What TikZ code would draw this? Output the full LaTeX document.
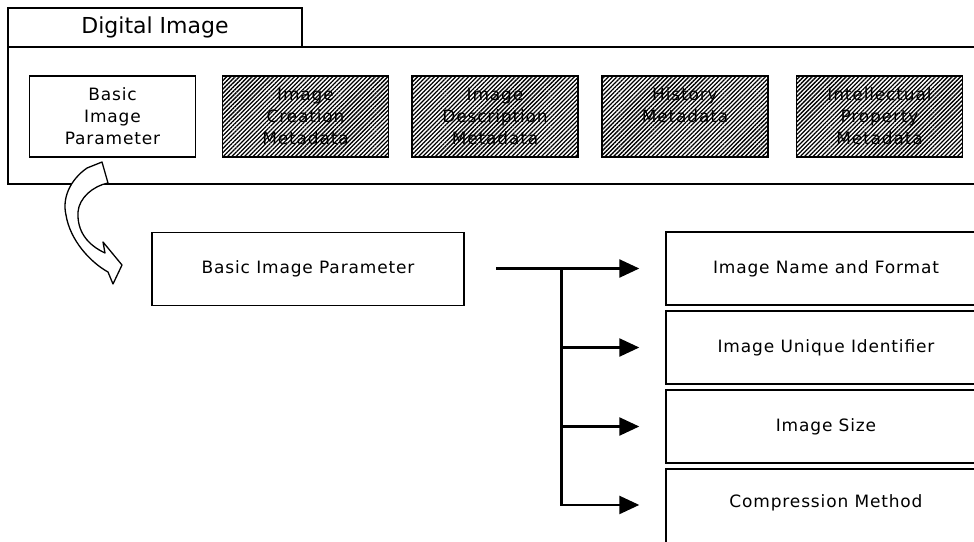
\documentclass[tikz,border=0pt]{standalone}
\usepackage{fontspec}
\setmainfont{DejaVu Sans}
\newfontfamily\partfont[LetterSpace=5]{DejaVu Sans}
\usetikzlibrary{patterns.meta,arrows.meta}

\begin{document}
\begin{tikzpicture}[x=1pt,y=-1pt,
  frame/.style={draw,line width=1.6pt},
  part/.style={draw,line width=1.4pt,fill=white,minimum width=166pt,minimum height=81pt,
    inner sep=0pt,align=center,font=\partfont\fontsize{17}{22}\selectfont},
  hatched/.style={part,pattern={Lines[angle=45,distance=3pt,line width=1.3pt]}},
  field/.style={draw,line width=1.4pt,minimum width=320pt,minimum height=73pt,
    inner sep=0pt,font=\partfont\fontsize{17}{19}\selectfont},
  branch/.style={line width=2.4pt,-{Triangle[length=20pt,width=18pt]},shorten >=26pt}]
  \useasboundingbox (0,0) rectangle (974,541);
  \clip (0,0) rectangle (974,541);

  \draw[frame] (8,47) rectangle (990,184);
  \node[frame,fill=white,minimum width=294pt,minimum height=39pt,inner sep=0pt,
    font=\fontsize{22}{26}\selectfont] (title) at (155,27.5) {Digital Image};

  \node[part] (basic) at (112.5,116.5) {Basic\\Image\\Parameter};
  \node[hatched] (creation) at (305.5,116.5) {Image\\Creation\\Metadata};
  \node[hatched] (description) at (495,116.5) {Image\\Description\\Metadata};
  \node[hatched] (history) at (685,116.5) {History\\Metadata\\\mbox{}};
  \node[hatched] (property) at (879.5,116.5) {Intellectual\\Property\\Metadata};

  % curved block arrow
  \draw[line width=1.3pt,fill=white,line join=round]
    (87,168) .. controls (70,180) and (62,198) .. (66,215)
    .. controls (70,240) and (90,262) .. (108,272) -- (113,284) -- (122,265)
    -- (103,242) -- (105,253) .. controls (88,245) and (77,232) .. (78,212)
    .. controls (79,198) and (93,186) .. (108,183) -- (102,162) -- cycle;

  \node[field,minimum width=312pt] (param) at (308,269) {Basic Image Parameter};

  \node[field] (name) at (826,268.5) {Image Name and Format};
  \node[field] (ident) at (826,347.5) {Image Unique Identifier};
  \node[field] (size) at (826,426.5) {Image Size};
  \node[field,anchor=north west,text height=38.7pt,text depth=52.3pt] (method) at (665.3,468.3) {Compression Method};

  \coordinate (trunk) at ([xshift=-169pt]name.west);
  \coordinate (split) at ([xshift=-104pt]name.west);
  \draw[branch] (trunk) -- (name.west);
  \draw[branch] (split) |- (ident.west);
  \draw[branch] (split) |- (size.west);
  \draw[branch] (split) |- (method.mid west);
\end{tikzpicture}
\end{document}
